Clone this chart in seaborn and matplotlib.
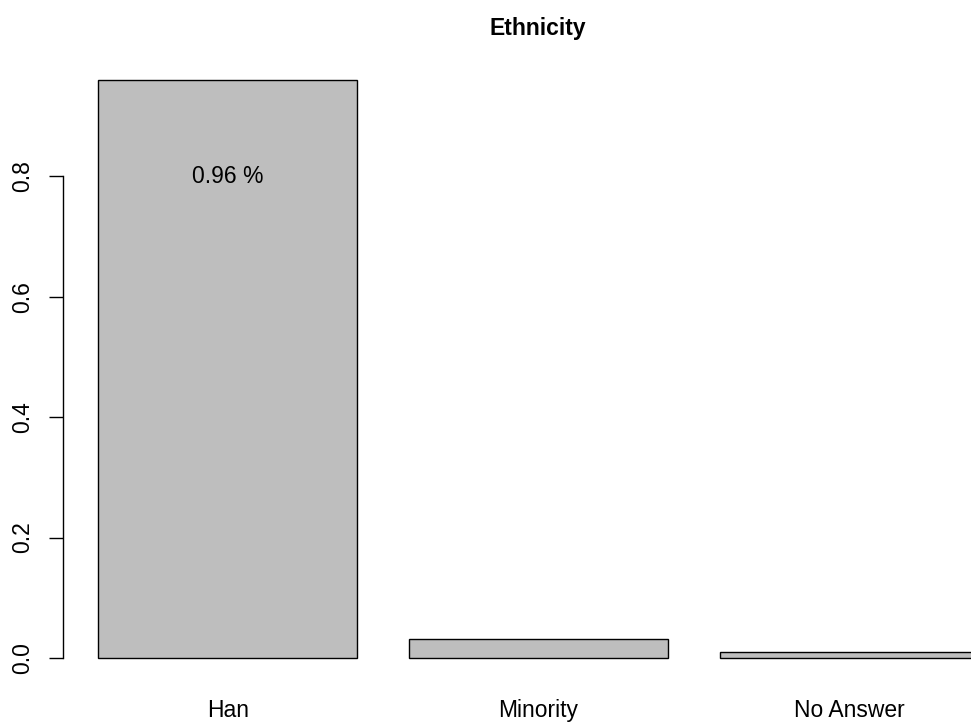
import matplotlib
matplotlib.use("Agg")
import matplotlib.pyplot as plt
import seaborn as sns
import pandas as pd

# data
categories = ["Han", "Minority", "No Answer"]
shares = [0.96, 0.032, 0.0095]
label_text = "0.96 %"
y_ticks = [0.0, 0.2, 0.4, 0.6, 0.8]


def main():
    sns.set_style("white")
    plt.rcParams["font.family"] = ["Liberation Sans", "DejaVu Sans"]
    plt.rcParams["text.color"] = "black"
    plt.rcParams["xtick.color"] = "black"
    plt.rcParams["ytick.color"] = "black"

    df = pd.DataFrame({"group": categories, "share": shares})

    fig = plt.figure(figsize=(9.71, 7.25), dpi=100)
    # plot region mimics R's barplot: it runs past the right edge of the figure
    ax = fig.add_axes([0.0649, 0.0607, 0.9792, 0.8607])

    sns.barplot(data=df, x="group", y="share", color="#BEBEBE", saturation=1,
                width=1 / 1.2, edgecolor="black", linewidth=1, ax=ax)

    ax.set_xlim(-0.53, 2.53)
    ax.set_ylim(-0.0384, 0.9984)

    for side in ["top", "right", "bottom"]:
        ax.spines[side].set_visible(False)
    ax.spines["left"].set_bounds(0, 0.8)
    ax.spines["left"].set_linewidth(1)
    ax.spines["left"].set_color("black")

    ax.set_yticks(y_ticks)
    ax.set_yticklabels([f"{v:.1f}" for v in y_ticks], rotation=90, va="center")
    ax.tick_params(axis="y", length=10, width=1, color="black", pad=11,
                   labelsize=16.5, left=True, labelcolor="black")
    ax.tick_params(axis="x", length=0, pad=13, labelsize=16.5,
                   labelcolor="black")
    ax.set_xlabel("")
    ax.set_ylabel("")

    ax.text(0, 0.8, label_text, ha="center", va="center", fontsize=16.5,
            color="black")

    fig.text(538 / 971, 1 - 28 / 725, "Ethnicity", ha="center", va="center",
             fontsize=16.5, fontweight="bold", color="black")

    fig.savefig("out.png", dpi=100)


if __name__ == "__main__":
    main()
